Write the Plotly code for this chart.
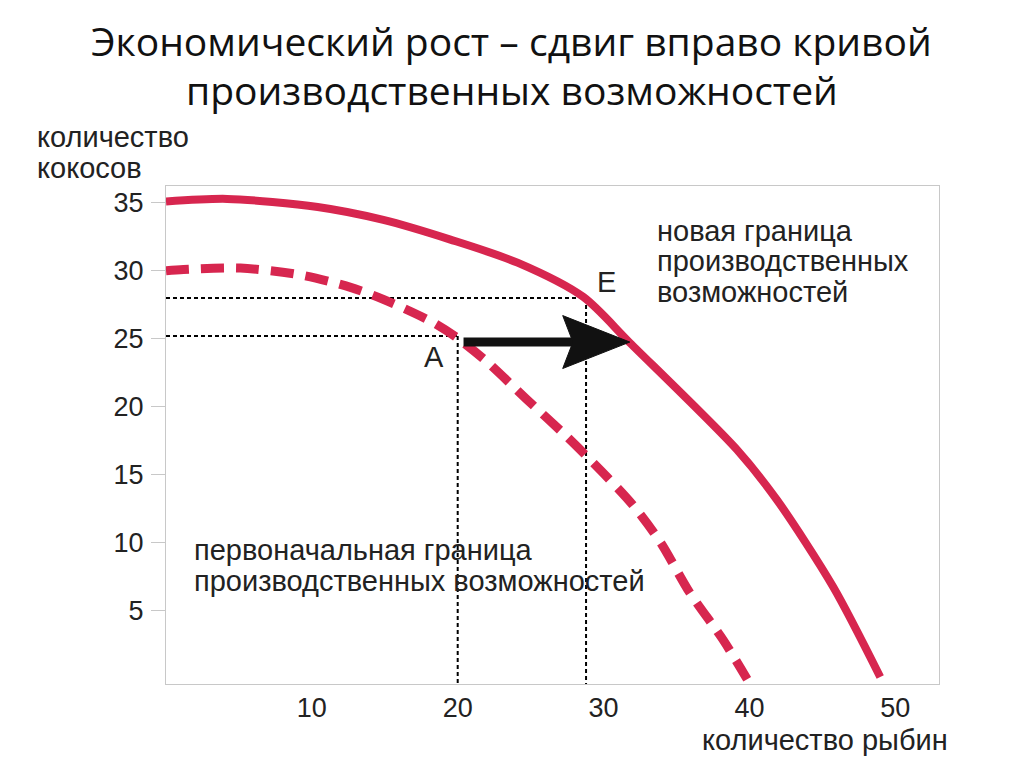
import plotly.graph_objects as go

# ---- data ----
x_new = [0, 4.2, 10.4, 14.9, 19.5, 24.1, 28.6, 31.8, 39.16, 41.9, 45.75, 48.97]
y_new = [35.1, 35.3, 34.7, 33.75, 32.3, 30.6, 28.08, 24.7, 16.8, 13.1, 6.7, 0.07]

x_old = [0, 1.2, 5.1, 9.2, 12.6, 14.9, 18.3, 19.96, 22.0, 24.76, 27.5, 30.25, 32.0, 33.9, 35.9, 38.2, 39.85]
y_old = [30.0, 30.1, 30.2, 29.7, 28.8, 27.9, 26.2, 25.06, 23.3, 20.5, 17.76, 14.8, 12.75, 10.0, 6.3, 2.8, -0.1]

point_A = (20.0, 25.2)
point_E = (28.8, 28.0)
arrow_y = 24.75
arrow_tip_x = 31.8

x_ticks = [10, 20, 30, 40, 50]
y_ticks = [5, 10, 15, 20, 25, 30, 35]

x_range = [0, 53]
y_range = [-0.45, 36.25]

RED = "#D7264F"
FONT_FAMILY = "Liberation Sans, Arial, sans-serif"
LBL = dict(family=FONT_FAMILY, size=29, color="#222222")
TICK = dict(family=FONT_FAMILY, size=27, color="#222222")

fig = go.Figure()

# dotted guide lines
for (px_, py_) in (point_A, point_E):
    fig.add_trace(go.Scatter(x=[0, px_], y=[py_, py_], mode="lines",
                             line=dict(color="black", width=2, dash="4px,3px"),
                             hoverinfo="skip", showlegend=False))
    fig.add_trace(go.Scatter(x=[px_, px_], y=[py_, y_range[0]], mode="lines",
                             line=dict(color="black", width=2, dash="4px,3px"),
                             hoverinfo="skip", showlegend=False))

# original PPF (dashed)
fig.add_trace(go.Scatter(x=x_old, y=y_old, mode="lines",
                         line=dict(color=RED, width=9, dash="23px,12px", shape="spline", smoothing=0.8),
                         showlegend=False))
# new PPF (solid)
fig.add_trace(go.Scatter(x=x_new, y=y_new, mode="lines",
                         line=dict(color=RED, width=8, shape="spline", smoothing=0.8),
                         showlegend=False))

# arrow: shaft + head
head_len = 4.6
notch = 3.9
half_h = 1.95
fig.add_trace(go.Scatter(x=[point_A[0] + 0.4, arrow_tip_x - notch + 0.2], y=[arrow_y, arrow_y],
                         mode="lines", line=dict(color="#111111", width=9),
                         hoverinfo="skip", showlegend=False))
fig.add_trace(go.Scatter(
    x=[arrow_tip_x, arrow_tip_x - head_len, arrow_tip_x - notch, arrow_tip_x - head_len, arrow_tip_x],
    y=[arrow_y, arrow_y + half_h, arrow_y, arrow_y - half_h, arrow_y],
    mode="lines", fill="toself", fillcolor="#111111", line=dict(color="#111111", width=1),
    hoverinfo="skip", showlegend=False))

ann = []
# point labels
ann.append(dict(x=point_A[0] - 1.6, y=point_A[1] - 1.55, text="A", showarrow=False, font=LBL))
ann.append(dict(x=point_E[0] + 1.4, y=point_E[1] + 1.2, text="E", showarrow=False, font=LBL))

# curve captions
for i, t in enumerate(["новая граница", "производственных", "возможностей"]):
    ann.append(dict(x=33.5, y=32.95 - i * 2.25, text=t, showarrow=False, xanchor="left",
                    yanchor="middle", font=LBL))
for i, t in enumerate(["первоначальная граница", "производственных возможностей"]):
    ann.append(dict(x=1.8, y=9.4 - i * 2.25, text=t, showarrow=False, xanchor="left",
                    yanchor="middle", font=LBL))

# axis titles
ann.append(dict(xref="paper", yref="paper", x=-0.169, y=1.098, text="количество",
                showarrow=False, xanchor="left", yanchor="middle", font=LBL))
ann.append(dict(xref="paper", yref="paper", x=-0.169, y=1.036, text="кокосов",
                showarrow=False, xanchor="left", yanchor="middle", font=LBL))
ann.append(dict(xref="paper", yref="paper", x=0.691, y=-0.112, text="количество рыбин",
                showarrow=False, xanchor="left", yanchor="middle", font=LBL))

# title
TF = dict(family="Open Sans, Noto Sans, sans-serif", size=39, color="#111111")
ann.append(dict(xref="paper", yref="paper", x=0.4476, y=1.293, xanchor="center", yanchor="middle",
                text="Экономический рост – сдвиг вправо кривой", showarrow=False, font=TF))
ann.append(dict(xref="paper", yref="paper", x=0.4476, y=1.193, xanchor="center", yanchor="middle",
                text="производственных возможностей", showarrow=False, font=TF))

fig.update_layout(
    width=1024, height=767,
    margin=dict(l=158, r=93, t=178, b=91),
    paper_bgcolor="white", plot_bgcolor="white",
    annotations=ann,
    xaxis=dict(range=x_range, tickvals=x_ticks, ticktext=[str(v) for v in x_ticks],
               showgrid=False, zeroline=False, showline=True, linecolor="#c8c8c8",
               linewidth=1, mirror=True, ticks="", tickfont=TICK, ticklabelstandoff=0),
    yaxis=dict(range=y_range, tickvals=y_ticks, ticktext=[str(v) for v in y_ticks],
               showgrid=False, zeroline=False, showline=True, linecolor="#c8c8c8",
               linewidth=1, mirror=True, ticks="outside", ticklen=14, tickcolor="#c8c8c8",
               tickfont=TICK, ticklabelstandoff=2),
)

fig.write_html("out.html")
